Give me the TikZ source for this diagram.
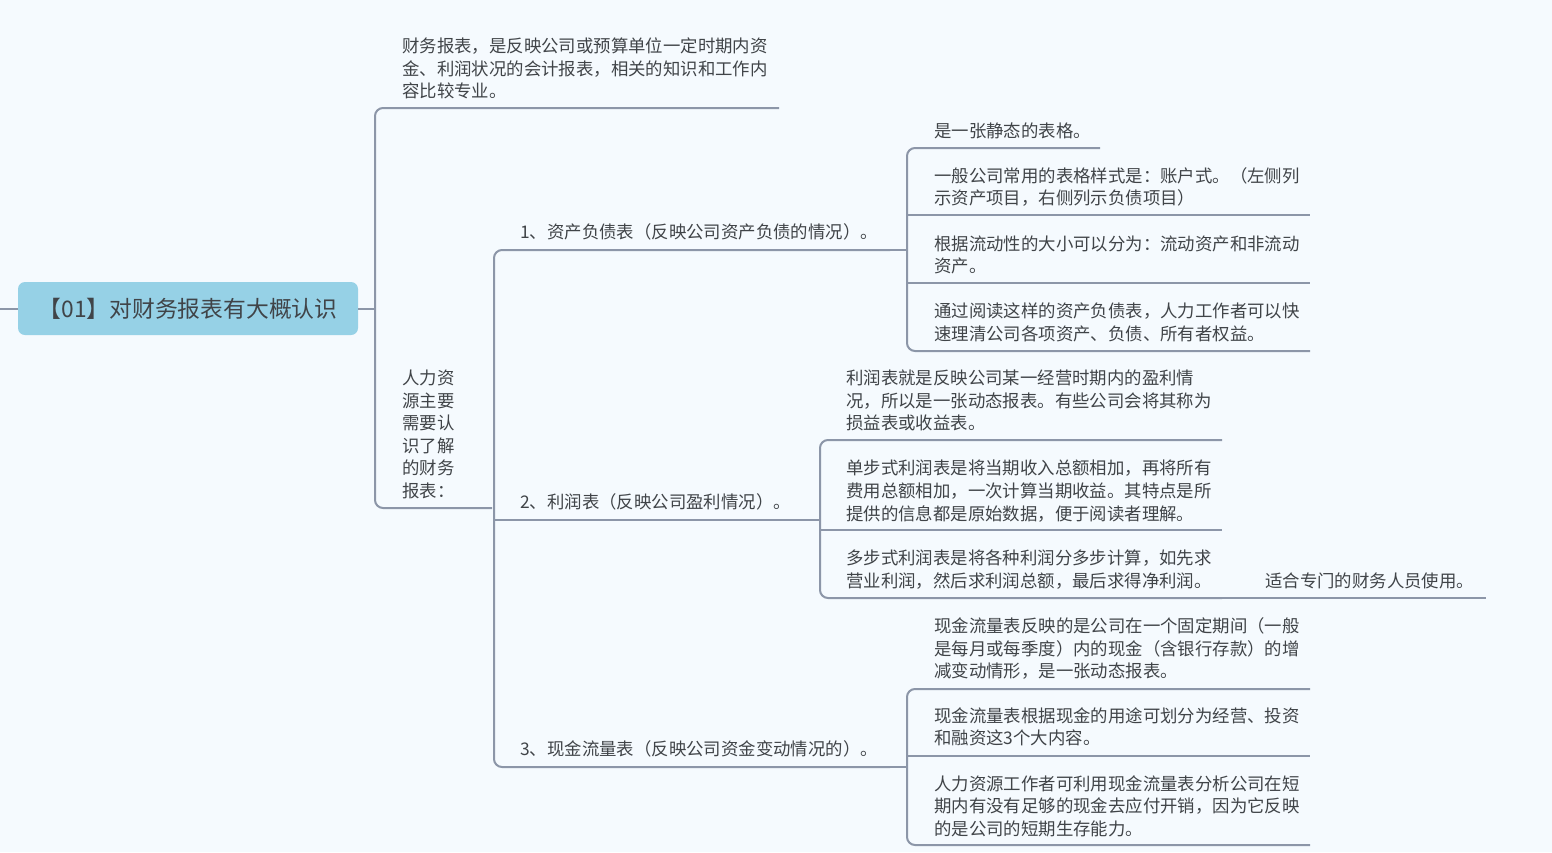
\documentclass[tikz,border=0pt]{standalone}
\usepackage{fontspec}
\setmainfont{Noto Sans CJK SC}
\definecolor{bg}{HTML}{F5FAFE}
\definecolor{ln}{HTML}{8C96A8}
\definecolor{tx}{HTML}{404448}
\definecolor{rootc}{HTML}{96D1E6}
\begin{document}
\begin{tikzpicture}[x=1pt,y=-1pt,
  conn/.style={draw=ln,line width=2pt,rounded corners=8pt},
  lbl/.style={anchor=west,inner sep=0pt,align=left,text=tx,font=\fontsize{17.4}{22.6}\selectfont}]
\fill[bg] (0,0) rectangle (1552,852);
\useasboundingbox (0,0) rectangle (1552,852);
% root
\node[fill=rootc,rounded corners=7pt,minimum width=340pt,minimum height=53pt,inner sep=0pt,text=tx,font=\fontsize{22.8}{24}\selectfont] (root) at (188,308.5) {【01】对财务报表有大概认识};
\coordinate (l0) at (0,308.5);
\draw[conn] (l0) -- (root.west);
% level 1
\coordinate (b1) at (375,308.5);
\coordinate (a1e) at (779,108);
\coordinate (a2e) at (492,508);
\node[lbl] (a1) at (402,68.5) {财务报表，是反映公司或预算单位一定时期内资\\金、利润状况的会计报表，相关的知识和工作内\\容比较专业。};
\node[lbl] (a2) at (402,434.5) {人力资\\源主要\\需要认\\识了解\\的财务\\报表：};
\draw[conn] (root.east) -- (b1);
\draw[conn] (a1e) -- (b1 |- a1e) -- (b1 |- a2e) -- (a2e);
% level 2
\coordinate (b2) at (494,508);
\coordinate (c1e) at (890,250);
\coordinate (c2e) at (806,520);
\coordinate (c3e) at (890,767);
\node[lbl] (c1) at (520,232) {1、资产负债表（反映公司资产负债的情况）。};
\node[lbl] (c2) at (520,502) {2、利润表（反映公司盈利情况）。};
\node[lbl] (c3) at (520,749) {3、现金流量表（反映公司资金变动情况的）。};
\draw[conn] (c1e) -- (b2 |- c1e) -- (b2 |- c3e) -- (c3e);
\draw[conn] (b2 |- c2e) -- (c2e);
% item 1 children
\coordinate (d0) at (907,250);
\coordinate (d1e) at (1100,148);
\coordinate (d2e) at (1310,215);
\coordinate (d3e) at (1310,283);
\coordinate (d4e) at (1310,351);
\node[lbl] (d1) at (934,131) {是一张静态的表格。};
\node[lbl] (d2) at (934,187) {一般公司常用的表格样式是：账户式。（左侧列\\示资产项目，右侧列示负债项目）};
\node[lbl] (d3) at (934,255) {根据流动性的大小可以分为：流动资产和非流动\\资产。};
\node[lbl] (d4) at (934,322.5) {通过阅读这样的资产负债表，人力工作者可以快\\速理清公司各项资产、负债、所有者权益。};
\draw[conn] (c1e) -- (d0);
\draw[conn] (d1e) -- (d0 |- d1e) -- (d0 |- d4e) -- (d4e);
\draw[conn] (d0 |- d2e) -- (d2e);
\draw[conn] (d0 |- d3e) -- (d3e);
% item 2 children
\coordinate (e0) at (820,520);
\coordinate (e1e) at (1222,440);
\coordinate (e2e) at (1222,530);
\coordinate (e3e) at (1222,598);
\coordinate (f1e) at (1486,598);
\node[lbl] (e1) at (846,400.5) {利润表就是反映公司某一经营时期内的盈利情\\况，所以是一张动态报表。有些公司会将其称为\\损益表或收益表。};
\node[lbl] (e2) at (846,491) {单步式利润表是将当期收入总额相加，再将所有\\费用总额相加，一次计算当期收益。其特点是所\\提供的信息都是原始数据，便于阅读者理解。};
\node[lbl] (e3) at (846,569.5) {多步式利润表是将各种利润分多步计算，如先求\\营业利润，然后求利润总额，最后求得净利润。};
\node[lbl] (f1) at (1265,581) {适合专门的财务人员使用。};
\draw[conn] (c2e) -- (e0);
\draw[conn] (e1e) -- (e0 |- e1e) -- (e0 |- e3e) -- (e3e);
\draw[conn] (e0 |- e2e) -- (e2e);
\draw[conn] (e3e) -- (f1e);
% item 3 children
\coordinate (g0) at (907,767);
\coordinate (g1e) at (1310,689);
\coordinate (g2e) at (1310,756);
\coordinate (g3e) at (1310,845);
\node[lbl] (g1) at (934,648.5) {现金流量表反映的是公司在一个固定期间（一般\\是每月或每季度）内的现金（含银行存款）的增\\减变动情形，是一张动态报表。};
\node[lbl] (g2) at (934,727) {现金流量表根据现金的用途可划分为经营、投资\\和融资这3个大内容。};
\node[lbl] (g3) at (934,806) {人力资源工作者可利用现金流量表分析公司在短\\期内有没有足够的现金去应付开销，因为它反映\\的是公司的短期生存能力。};
\draw[conn] (c3e) -- (g0);
\draw[conn] (g1e) -- (g0 |- g1e) -- (g0 |- g3e) -- (g3e);
\draw[conn] (g0 |- g2e) -- (g2e);
\end{tikzpicture}
\end{document}
